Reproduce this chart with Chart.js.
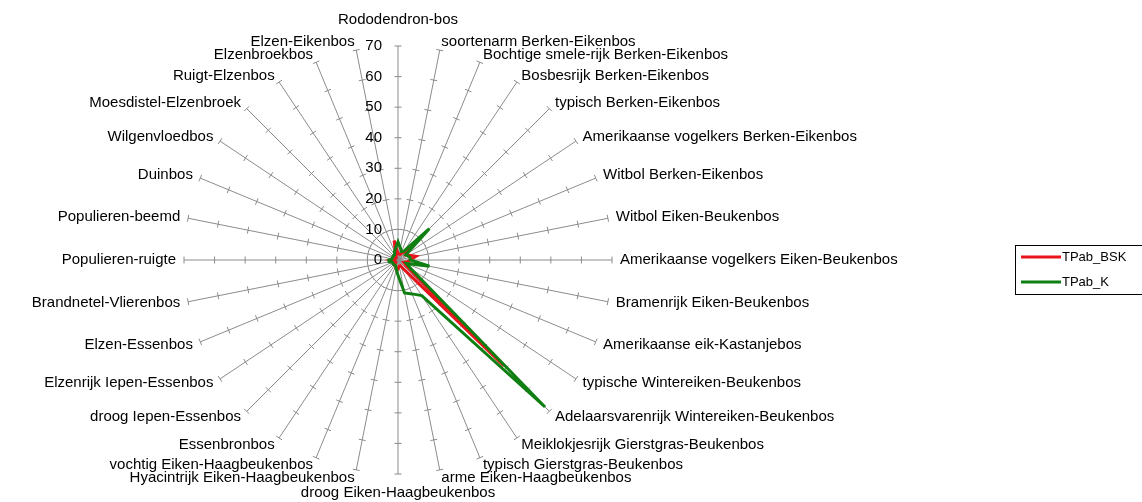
<!DOCTYPE html>
<html>
<head>
<meta charset="utf-8">
<script src="https://cdn.jsdelivr.net/npm/chart.js@4.4.1/dist/chart.umd.min.js"></script>
<style>
  body { margin: 0; background: #fff; }
</style>
</head>
<body>
<canvas id="radar" width="1142" height="502"></canvas>
<script>
// bostypen (clockwise from top)
const bostypen = [
    'Rododendron-bos', 'soortenarm Berken-Eikenbos', 'Bochtige smele-rijk Berken-Eikenbos',
    'Bosbesrijk Berken-Eikenbos', 'typisch Berken-Eikenbos', 'Amerikaanse vogelkers Berken-Eikenbos',
    'Witbol Berken-Eikenbos', 'Witbol Eiken-Beukenbos', 'Amerikaanse vogelkers Eiken-Beukenbos',
    'Bramenrijk Eiken-Beukenbos', 'Amerikaanse eik-Kastanjebos', 'typische Wintereiken-Beukenbos',
    'Adelaarsvarenrijk Wintereiken-Beukenbos', 'Meiklokjesrijk Gierstgras-Beukenbos',
    'typisch Gierstgras-Beukenbos', 'arme Eiken-Haagbeukenbos', 'droog Eiken-Haagbeukenbos',
    'Hyacintrijk Eiken-Haagbeukenbos', 'vochtig Eiken-Haagbeukenbos', 'Essenbronbos',
    'droog Iepen-Essenbos', 'Elzenrijk Iepen-Essenbos', 'Elzen-Essenbos', 'Brandnetel-Vlierenbos',
    'Populieren-ruigte', 'Populieren-beemd', 'Duinbos', 'Wilgenvloedbos', 'Moesdistel-Elzenbroek',
    'Ruigt-Elzenbos', 'Elzenbroekbos', 'Elzen-Eikenbos'
];

const tpabBSK = [2, 2, 2, 3, 5, 3, 4, 6, 4, 3, 2, 3, 49, 4, 2, 2,
                 3, 3, 2, 2, 1, 1, 1, 1, 2, 1, 1, 1, 1, 1, 2, 6.5];
const tpabK = [6, 4, 3, 3.5, 14.5, 3, 3.5, 4, 4, 10.5, 3, 5, 68, 14, 12, 11,
               5, 3, 2, 2, 2, 2, 2, 3, 3, 2, 2, 2, 2, 2, 3, 4];

const tickWaarden = [0, 10, 20, 30, 40, 50, 60, 70];

const FONT = '15px "Liberation Sans", Arial, sans-serif';

// spaken met streepjes, as-labels, categorie-labels en legenda (Excel stijl)
const excelStijl = {
    id: 'excelStijl',
    beforeDatasetsDraw(chart) {
        const ctx = chart.ctx;
        const r = chart.scales.r;
        ctx.save();
        ctx.strokeStyle = '#8c8c8c';
        ctx.lineWidth = 1;
        for (let i = 0; i < bostypen.length; i++) {
            for (let t = 1; t < tickWaarden.length; t++) {
                const p = r.getPointPositionForValue(i, tickWaarden[t]);
                const a = p.angle + Math.PI / 2;
                const dx = Math.cos(a) * 3.5, dy = Math.sin(a) * 3.5;
                ctx.beginPath();
                ctx.moveTo(p.x - dx, p.y - dy);
                ctx.lineTo(p.x + dx, p.y + dy);
                ctx.stroke();
            }
        }
        ctx.restore();
    },
    afterDraw(chart) {
        const ctx = chart.ctx;
        const r = chart.scales.r;
        ctx.save();
        ctx.fillStyle = '#000';
        ctx.font = FONT;
        ctx.textBaseline = 'middle';

        // as-labels
        ctx.textAlign = 'right';
        tickWaarden.forEach(function (v) {
            const y = r.yCenter - r.getDistanceFromCenterForValue(v);
            ctx.fillText(String(v), r.xCenter - 16, y);
        });

        // categorie-labels
        const n = bostypen.length;
        for (let i = 0; i < n; i++) {
            let pad = 8;
            if (i === 0) pad = 26;
            if (i === n / 2) pad = 19;
            const p = r.getPointPosition(i, r.drawingArea + pad);
            if (i === 0 || i === n / 2) ctx.textAlign = 'center';
            else if (i < n / 2) ctx.textAlign = 'left';
            else ctx.textAlign = 'right';
            ctx.fillText(bostypen[i], p.x, p.y);
        }

        // legenda
        ctx.strokeStyle = '#000';
        ctx.lineWidth = 1;
        ctx.strokeRect(1015.5, 245.5, 140, 49);
        ctx.font = '13px "Liberation Sans", Arial, sans-serif';
        ctx.textAlign = 'left';
        chart.data.datasets.forEach(function (ds, k) {
            const y = 257 + k * 25;
            ctx.strokeStyle = ds.borderColor;
            ctx.lineWidth = 3;
            ctx.beginPath();
            ctx.moveTo(1021, y);
            ctx.lineTo(1061, y);
            ctx.stroke();
            ctx.fillText(ds.label, 1062, y);
        });
        ctx.restore();
    }
};

let grafRadar = document.getElementById('radar').getContext('2d');
let chart = new Chart(grafRadar, {
    type: 'radar',
    data: {
        labels: bostypen,
        datasets: [{
            label: 'TPab_BSK',
            data: tpabBSK,
            borderColor: '#e8141b',
            backgroundColor: '#00000000',
            borderWidth: 3,
            pointRadius: 0,
            fill: false,
            order: 1
        }, {
            label: 'TPab_K',
            data: tpabK,
            borderColor: '#0f7f12',
            backgroundColor: '#00000000',
            borderWidth: 3,
            pointRadius: 0,
            fill: false,
            order: 0
        }]
    },
    options: {
        responsive: false,
        animation: false,
        layout: { padding: { left: 184, top: 46, right: 530, bottom: 28 } },
        plugins: {
            legend: { display: false },
            tooltip: { enabled: false }
        },
        elements: { line: { tension: 0 } },
        scales: {
            r: {
                min: 0,
                max: 70,
                ticks: { display: false, stepSize: 10 },
                grid: { display: false },
                angleLines: { display: true, color: '#8c8c8c', lineWidth: 1 },
                pointLabels: { display: false }
            }
        }
    },
    plugins: [excelStijl]
});
</script>
</body>
</html>
